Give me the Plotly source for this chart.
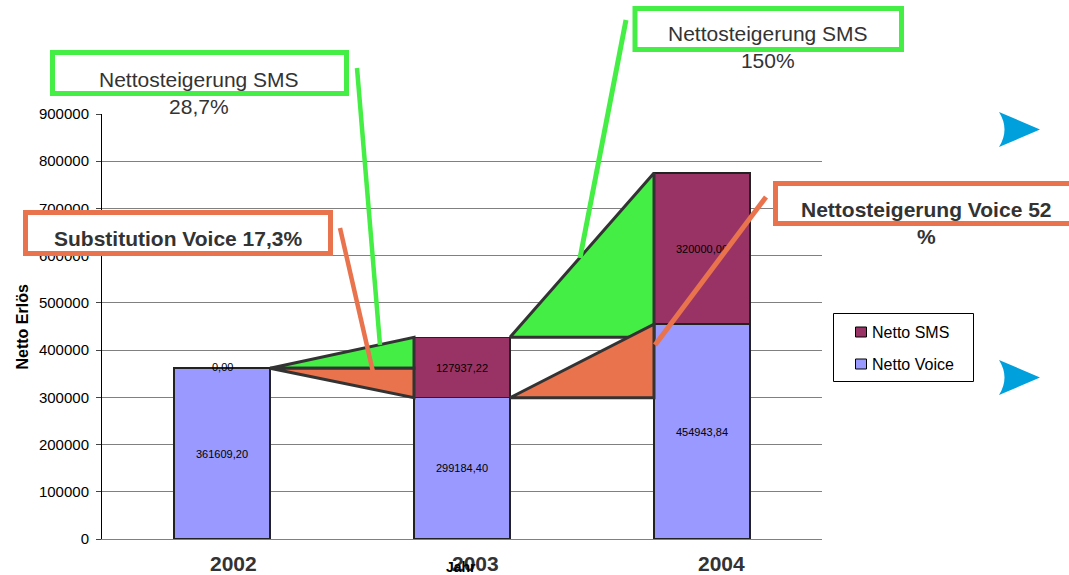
import plotly.graph_objects as go

# ---------------- data ----------------
years = ["2002", "2003", "2004"]
netto_voice = [361609.20, 299184.40, 454943.84]
netto_sms = [0.00, 127937.22, 320000.00]
y_ticks = [0, 100000, 200000, 300000, 400000, 500000, 600000, 700000, 800000, 900000]
callout_sms_1 = ["Nettosteigerung SMS", "28,7%"]
callout_sms_2 = ["Nettosteigerung SMS", "150%"]
callout_voice_sub = "Substitution Voice 17,3%"
callout_voice_up = ["Nettosteigerung Voice 52", "%"]
axis_title_y = "Netto Erlös"
axis_title_x = "Jahr"

# ---------------- style ----------------
W, H = 1069, 575
L, R, T, B = 102, 822, 114, 539
C_VOICE = "#9999FF"
C_SMS = "#993366"
C_GREEN = "#45EE45"
C_ORANGE = "#E9734D"
C_TEXT = "#333333"
C_BLUE = "#00A0DD"
FONT = "Liberation Sans, Arial, sans-serif"
BAR_W = 0.4
HALF = BAR_W / 2


def px(x):
    return (x - L) / (R - L)


def py(y):
    return (B - y) / (B - T)


def fmt(v):
    return f"{v:.2f}".replace(".", ",")


xs = list(range(len(years)))
totals = [v + s for v, s in zip(netto_voice, netto_sms)]

fig = go.Figure()

fig.add_trace(go.Bar(
    x=xs, y=netto_voice, name="Netto Voice", width=BAR_W,
    marker=dict(color=C_VOICE, line=dict(color="#222222", width=1.5)),
    text=[fmt(v) for v in netto_voice], textposition="inside",
    insidetextanchor="middle", textfont=dict(size=11, color="black", family=FONT),
    showlegend=False,
))
fig.add_trace(go.Bar(
    x=xs, y=netto_sms, name="Netto SMS", width=BAR_W,
    marker=dict(color=C_SMS, line=dict(color="#222222", width=1.5)),
    text=[fmt(v) if v > 0 else "" for v in netto_sms], textposition="inside",
    insidetextanchor="middle", textfont=dict(size=11, color="black", family=FONT),
    showlegend=False,
))

# bridge triangles between the bars
for i in range(len(years) - 1):
    x0, x1 = xs[i] + HALF, xs[i + 1] - HALF
    # SMS increase (green)
    fig.add_trace(go.Scatter(
        x=[x0, x1, x1, x0], y=[totals[i], totals[i + 1], totals[i], totals[i]],
        mode="lines", fill="toself", fillcolor=C_GREEN,
        line=dict(color="#333333", width=3), hoverinfo="skip", showlegend=False,
    ))
    # Voice change (orange)
    if i == 0:
        oy = [totals[i], totals[i], netto_voice[i + 1], totals[i]]
    else:
        oy = [netto_voice[i], netto_voice[i + 1], netto_voice[i], netto_voice[i]]
    fig.add_trace(go.Scatter(
        x=[x0, x1, x1, x0], y=oy, mode="lines", fill="toself", fillcolor=C_ORANGE,
        line=dict(color="#333333", width=3), hoverinfo="skip", showlegend=False,
    ))

shapes = []
annotations = []

# zero-value label for 2002 SMS
for i, s in enumerate(netto_sms):
    if s == 0:
        annotations.append(dict(
            x=xs[i], y=totals[i], xref="x", yref="y", text=fmt(s), showarrow=False,
            yanchor="middle", yshift=1, font=dict(size=11, color="black", family=FONT)))

# x category labels
year_shift = [11, 13, 19]
for i, yr in enumerate(years):
    annotations.append(dict(
        x=xs[i], y=py(563), xref="x", yref="paper", text=f"<b>{yr}</b>", showarrow=False,
        xshift=year_shift[i], yanchor="middle",
        font=dict(size=21, color=C_TEXT, family=FONT)))
annotations.append(dict(
    x=px(461), y=py(567), xref="paper", yref="paper", text=f"<b>{axis_title_x}</b>",
    showarrow=False, yanchor="middle", font=dict(size=14, color="black", family=FONT)))
annotations.append(dict(
    x=px(21.5), y=py(327), xref="paper", yref="paper", text=f"<b>{axis_title_y}</b>",
    showarrow=False, textangle=-90, xanchor="center", yanchor="middle",
    font=dict(size=16, color="black", family=FONT)))

# legend (custom)
shapes.append(dict(type="rect", xref="paper", yref="paper",
                   x0=px(833.5), x1=px(973.5), y0=py(313.5), y1=py(381.5),
                   line=dict(color="black", width=1), fillcolor="white", layer="above"))
for (name, col, yc) in [("Netto SMS", C_SMS, 332), ("Netto Voice", C_VOICE, 364)]:
    shapes.append(dict(type="rect", xref="paper", yref="paper",
                       x0=px(855.5), x1=px(866.5), y0=py(yc - 5), y1=py(yc + 5),
                       line=dict(color="black", width=1), fillcolor=col, layer="above"))
    annotations.append(dict(x=px(870), y=py(yc), xref="paper", yref="paper", text=name,
                            showarrow=False, xanchor="left", yanchor="middle",
                            font=dict(size=16, color="black", family=FONT)))


def box(x0, y0, x1, y1, col):
    shapes.append(dict(type="rect", xref="paper", yref="paper",
                       x0=px(x0), x1=px(x1), y0=py(y0), y1=py(y1),
                       line=dict(color=col, width=5), fillcolor="white", layer="above"))


def line(x0, y0, x1, y1, col, w):
    shapes.append(dict(type="line", xref="paper", yref="paper",
                       x0=px(x0), x1=px(x1), y0=py(y0), y1=py(y1),
                       line=dict(color=col, width=w), layer="above"))


box(52.5, 52.5, 346.5, 93.5, C_GREEN)
box(635, 8.5, 901.5, 49.5, C_GREEN)
box(25.5, 212.5, 330.5, 253.5, C_ORANGE)
box(775.5, 183.5, 1085, 223.5, C_ORANGE)

line(357, 68, 380, 345, C_GREEN, 4.5)
line(340, 228, 373, 372, C_ORANGE, 4.5)
line(626, 20, 580, 258, C_GREEN, 5)
line(766, 197, 655, 345, C_ORANGE, 5)

annotations.append(dict(x=px(199), y=py(93), xref="paper", yref="paper",
                        text="<br>".join(callout_sms_1), showarrow=False,
                        xanchor="center", yanchor="middle",
                        font=dict(size=21, color=C_TEXT, family=FONT)))
annotations.append(dict(x=px(768), y=py(47), xref="paper", yref="paper",
                        text="<br>".join(callout_sms_2), showarrow=False,
                        xanchor="center", yanchor="middle",
                        font=dict(size=21, color=C_TEXT, family=FONT)))
annotations.append(dict(x=px(178), y=py(238), xref="paper", yref="paper",
                        text=f"<b>{callout_voice_sub}</b>", showarrow=False,
                        xanchor="center", yanchor="middle",
                        font=dict(size=21, color=C_TEXT, family=FONT)))
annotations.append(dict(x=px(926), y=py(223), xref="paper", yref="paper",
                        text="<b>" + "<br>".join(callout_voice_up) + "</b>", showarrow=False,
                        xanchor="center", yanchor="middle",
                        font=dict(size=21, color=C_TEXT, family=FONT)))

# blue arrow heads
for yc in [129.5, 377.5]:
    top, bot = yc - 17.5, yc + 17.5
    path = (f"M {px(999)},{py(top)} L {px(1040)},{py(yc)} L {px(999)},{py(bot)} "
            f"Q {px(1010)},{py(yc)} {px(999)},{py(top)} Z")
    shapes.append(dict(type="path", xref="paper", yref="paper", path=path,
                       fillcolor=C_BLUE, line=dict(color=C_BLUE, width=0), layer="above"))

fig.update_layout(
    width=W, height=H,
    margin=dict(l=L, r=W - R, t=T, b=H - B, pad=0),
    paper_bgcolor="white", plot_bgcolor="white",
    barmode="stack", bargap=0.6,
    showlegend=False,
    font=dict(family=FONT, color="black"),
    shapes=shapes, annotations=annotations,
    xaxis=dict(range=[-0.5, len(years) - 0.5], showgrid=False, zeroline=False,
               showticklabels=False, ticks="", showline=True,
               linecolor="#808080", linewidth=1, fixedrange=True),
    yaxis=dict(range=[0, 900000], tickvals=y_ticks, ticktext=[str(t) for t in y_ticks],
               showgrid=True, gridcolor="#808080", gridwidth=1, zeroline=False,
               showline=True, linecolor="black", linewidth=1,
               ticks="outside", ticklen=5, tickcolor="#444444",
               tickfont=dict(size=15, color="black", family=FONT),
               ticklabelstandoff=4, fixedrange=True),
)

fig.write_html(
    "out.html",
    config={"displayModeBar": False},
    post_script="document.body.style.margin='0';document.body.style.overflow='hidden';",
)
